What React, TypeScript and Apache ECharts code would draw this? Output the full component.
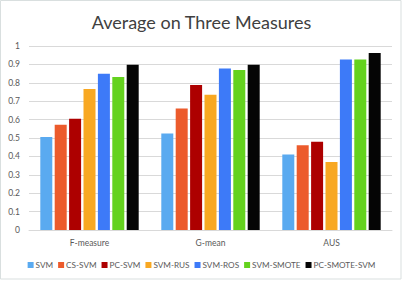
import React, { useEffect, useRef } from "react";
import * as echarts from "echarts";

const categories = ["F-measure", "G-mean", "AUS"];
const seriesNames = ["SVM", "CS-SVM", "PC-SVM", "SVM-RUS", "SVM-ROS", "SVM-SMOTE", "PC-SMOTE-SVM"];
const svm = [0.505, 0.525, 0.41];
const csSvm = [0.572, 0.66, 0.46];
const pcSvm = [0.604, 0.788, 0.48];
const svmRus = [0.766, 0.735, 0.369];
const svmRos = [0.849, 0.878, 0.927];
const svmSmote = [0.831, 0.869, 0.927];
const pcSmoteSvm = [0.898, 0.898, 0.962];
const colors = ["#5aaaf0", "#ec5b2c", "#ad0000", "#f8a822", "#3d7af8", "#64d21e", "#050505"];

export default function App() {
  const ref = useRef<HTMLDivElement>(null);
  useEffect(() => {
    const chart = echarts.init(ref.current!, null, { renderer: "svg" });
    const data = [svm, csSvm, pcSvm, svmRus, svmRos, svmSmote, pcSmoteSvm];
    chart.setOption({
      animation: false,
      backgroundColor: "#ffffff",
      color: colors,
      title: {
        text: "Average on Three Measures",
        left: "center",
        top: 8,
        textStyle: { fontFamily: "Lato", fontSize: 18, fontWeight: "normal", color: "#404040" },
      },
      graphic: [
        {
          type: "rect",
          shape: { x: 0.5, y: 0.5, width: 400.5, height: 278.5 },
          style: { fill: "none", stroke: "#d9dfdf", lineWidth: 1 },
          silent: true,
        },
      ],
      legend: {
        bottom: 7,
        left: "center",
        itemWidth: 6,
        itemHeight: 6,
        itemGap: 5,
        icon: "rect",
        textStyle: { fontFamily: "Lato", fontSize: 8.2, color: "#595959", padding: [0, 0, 0, -3] },
        data: seriesNames,
      },
      grid: { left: 29, right: 11, top: 46, bottom: 51 },
      xAxis: {
        type: "category",
        data: categories,
        axisLine: { lineStyle: { color: "#d9d9d9" } },
        axisTick: { show: false },
        axisLabel: { fontFamily: "Lato", fontSize: 8.5, color: "#595959", margin: 8 },
      },
      yAxis: {
        type: "value",
        min: 0,
        max: 1,
        interval: 0.1,
        axisLine: { show: false },
        axisTick: { show: false },
        splitLine: { lineStyle: { color: "#d9d9d9" } },
        axisLabel: { fontFamily: "Lato", fontSize: 8.5, color: "#595959", margin: 9 },
      },
      series: seriesNames.map((name, i) => ({
        name,
        type: "bar",
        data: data[i],
        barWidth: 12,
        barGap: "20%",
      })),
    });
    return () => chart.dispose();
  }, []);
  return <div ref={ref} style={{ position: "fixed", left: 0, top: 0, width: 403, height: 281 }} />;
}
